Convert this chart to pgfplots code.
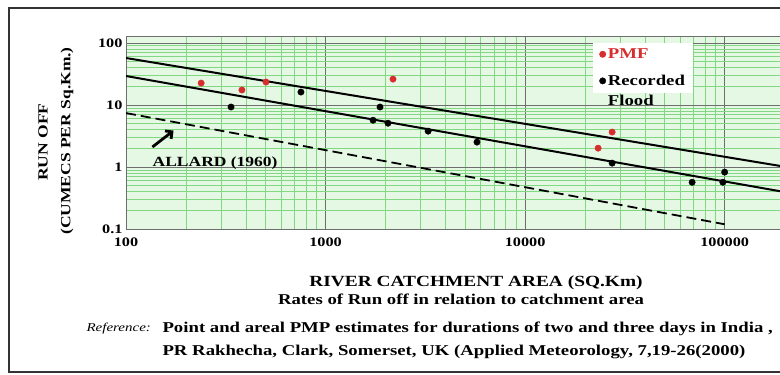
\documentclass[border=0pt]{standalone}
\usepackage{pgfplots}
\pgfplotsset{compat=1.18}
\usetikzlibrary{arrows.meta}
\usepackage{fontspec}
\setmainfont{Liberation Serif}[FakeStretch=1.25]
\definecolor{pmfred}{RGB}{215,45,45}
\definecolor{gridgreen}{RGB}{130,215,130}
\definecolor{bggreen}{RGB}{228,248,228}
\definecolor{majgray}{RGB}{110,110,110}
\begin{document}
\begin{tikzpicture}[x=1pt,y=1pt]
\useasboundingbox (0,0) rectangle (780,375);
\clip (0,0) rectangle (780,375);
\fill[white] (0,0) rectangle (780,375);
\begin{axis}[
  at={(126pt,145pt)}, anchor=south west,
  scale only axis, width=660pt, height=193pt,
  xmode=log, ymode=log,
  xmin=100, xmax=203000, ymin=0.097, ymax=125,
  xtick={100,1000,10000,100000}, xticklabels={100,1000,10000,100000},
  ytick={0.1,1,10,100}, yticklabels={0.1,1,10,100},
  grid=both,
  major grid style={draw=majgray, line width=0.9pt},
  minor grid style={draw=gridgreen, line width=0.8pt},
  axis background/.style={fill=bggreen},
  major tick length=0pt, minor tick length=0pt,
  axis line style={draw=majgray, line width=1pt},
  ticklabel style={font=\bfseries\fontsize{13}{13}\selectfont},
  /pgf/number format/assume math mode=true,
  xticklabel style={yshift=-4pt},
  legend cell align=left,
  legend style={at={(0.708,0.972)}, anchor=north west, draw=none, fill=white,
    font=\bfseries\fontsize{15}{20}\selectfont, row sep=11pt, inner sep=4pt,
    inner xsep=6pt},
]
% fitted lines
\addplot[black, line width=2pt, forget plot] coordinates {(100,57.3) (210000,0.99)};
\addplot[black, line width=2pt, forget plot] coordinates {(100,29.4) (210000,0.386)};
\addplot[black, line width=1.8pt, dash pattern=on 10pt off 5pt, forget plot] coordinates {(100,7.43) (100000,0.12)};
% PMF
\addplot[only marks, mark=*, mark size=3.2pt, draw=pmfred, fill=pmfred] coordinates {
(238,22.6) (381,17.5) (503,23.5) (2178,26.2) (27300,3.67) (23230,2.02)
};
\addlegendentry{\textcolor{pmfred}{PMF}}
% Recorded flood
\addplot[only marks, mark=*, mark size=3.2pt, black] coordinates {
(336,9.3) (753,16.2) (1875,9.3) (1730,5.7) (2056,5.1) (3266,3.8) (5740,2.53)
(27300,1.16) (68700,0.57) (100000,0.83) (98000,0.57)
};
\addlegendentry{\vtop{\hbox{Recorded}\hbox{Flood}}}
\node[anchor=west, font=\bfseries\fontsize{14}{14}\selectfont] at (axis description cs:0.035,0.347) {ALLARD (1960)};
\draw[-{Straight Barb[length=5pt,width=10pt]}, line width=2.8pt] (axis description cs:0.040,0.430) -- (axis description cs:0.072,0.515);
\end{axis}
\node[font=\bfseries\fontsize{15.5}{15.5}\selectfont] at (476,92) {RIVER CATCHMENT AREA (SQ.Km)};
\node[font=\bfseries\fontsize{15}{15}\selectfont] at (461,76) {Rates of Run off in relation to catchment area};
\node[anchor=west, font=\itshape\fontsize{12}{12}\selectfont] at (83,46) {Reference:};
\node[anchor=west, font=\bfseries\fontsize{15}{15}\selectfont] at (159,46) {Point and areal PMP estimates for durations of two and three days in India ,};
\node[anchor=west, font=\bfseries\fontsize{15}{15}\selectfont] at (159,23) {PR Rakhecha, Clark, Somerset, UK (Applied Meteorology, 7,19-26(2000)};
\node[rotate=90, font=\bfseries\fontsize{14}{14}\selectfont] at (43,233) {RUN OFF};
\node[rotate=90, font=\bfseries\fontsize{14}{14}\selectfont] at (67,234) {(CUMECS PER Sq.Km.)};
\draw[line width=2pt, black!80] (9,3) rectangle (800,367);
\end{tikzpicture}
\end{document}
